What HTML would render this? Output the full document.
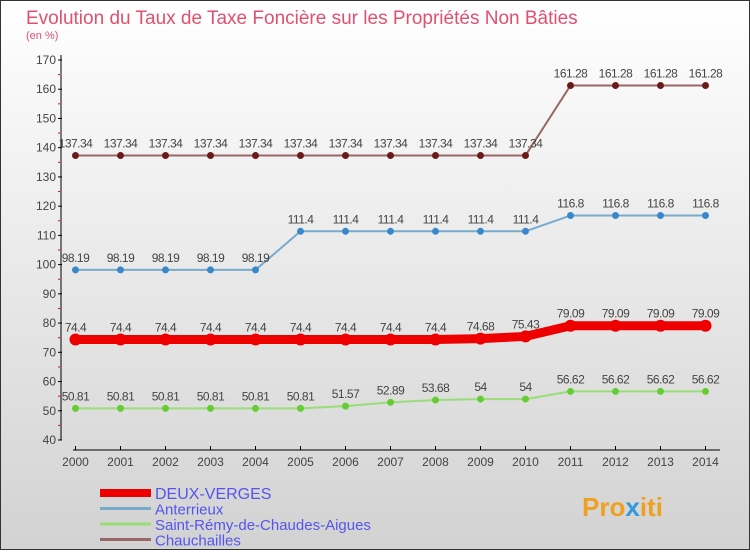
<!DOCTYPE html>
<html><head><meta charset="utf-8"><style>
body{margin:0;}
#c{width:750px;height:550px;}
text{font-family:"Liberation Sans",sans-serif;}
</style></head><body>
<svg id="c" width="750" height="550" xmlns="http://www.w3.org/2000/svg">
<defs><linearGradient id="bg" x1="0" y1="0" x2="0" y2="1"><stop offset="0" stop-color="#ffffff"/><stop offset="1" stop-color="#d2d2d2"/></linearGradient></defs>
<rect x="0.5" y="0.5" width="749" height="549" fill="url(#bg)" stroke="#333"/>
<text x="26" y="24" font-size="19" fill="#e05070">Evolution du Taux de Taxe Foncière sur les Propriétés Non Bâties</text>
<text x="26" y="39" font-size="11" fill="#e05070">(en %)</text>
<g id="axes"></g><g id="series"></g><g id="legend"></g>
<text x="582" y="516" font-size="26" font-weight="bold" fill="#f0a020">Pro<tspan fill="#3399dd">x</tspan>iti</text>
</svg>
<script>
const years=[2000,2001,2002,2003,2004,2005,2006,2007,2008,2009,2010,2011,2012,2013,2014];
const yTicks=[40,50,60,70,80,90,100,110,120,130,140,150,160,170];
const deux=[74.4,74.4,74.4,74.4,74.4,74.4,74.4,74.4,74.4,74.68,75.43,79.09,79.09,79.09,79.09];
const ant=[98.19,98.19,98.19,98.19,98.19,111.4,111.4,111.4,111.4,111.4,111.4,116.8,116.8,116.8,116.8];
const stremy=[50.81,50.81,50.81,50.81,50.81,50.81,51.57,52.89,53.68,54,54,56.62,56.62,56.62,56.62];
const chau=[137.34,137.34,137.34,137.34,137.34,137.34,137.34,137.34,137.34,137.34,137.34,161.28,161.28,161.28,161.28];
const labels=["DEUX-VERGES","Anterrieux","Saint-Rémy-de-Chaudes-Aigues","Chauchailles"];
const NS="http://www.w3.org/2000/svg";
const X=i=>75.5+i*45;
const Y=v=>440-(v-40)*380/130;
function mk(t,a,p){const e=document.createElementNS(NS,t);for(const k in a)e.setAttribute(k,a[k]);p.appendChild(e);return e;}
const ax=document.getElementById('axes');
let l=mk('line',{x1:61,y1:55,x2:61,y2:440,stroke:'#000'},ax);


l=mk('line',{x1:73,y1:450,x2:720,y2:450,stroke:'#000'},ax);


yTicks.forEach(v=>{
 mk('line',{x1:58,y1:Y(v),x2:62,y2:Y(v),stroke:'#000'},ax);
 if(v<170)mk('line',{x1:58,y1:Y(v+5),x2:60,y2:Y(v+5),stroke:'#f00'},ax);
 const t=mk('text',{x:56,y:Y(v)+4,'font-size':12,'text-anchor':'end',fill:'#444'},ax);t.textContent=v;
 
 
});
years.forEach((y,i)=>{
 mk('line',{x1:X(i),y1:446,x2:X(i),y2:450,stroke:'#000'},ax);
 const t=mk('text',{x:X(i),y:466,'font-size':12,'text-anchor':'middle',fill:'#444'},ax);t.textContent=y;
 
 
});
const sg=document.getElementById('series');
function series(data,line,dot,w,r,name){
 const g=mk('g',{},sg);
 
 
 mk('polyline',{points:data.map((v,i)=>X(i)+','+Y(v)).join(' '),fill:'none',stroke:line,'stroke-width':w},g);
 data.forEach((v,i)=>{
  const c=mk('circle',{cx:X(i),cy:Y(v),r:r,fill:dot},g);
  
  
  const t=mk('text',{x:X(i),y:Y(v)-8,'font-size':12,'text-anchor':'middle',fill:'#444','letter-spacing':'-0.5'},g);t.textContent=v;
 });
}
series(chau,'#996666','#6b1a1a',2,3.5,'series-chauchailles');
series(ant,'#77aacc','#3a88cc',2,3.5,'series-anterrieux');
series(stremy,'#99dd77','#66cc33',2,3.5,'series-saint-remy');
series(deux,'#ee0000','#ee0000',9,6,'series-deux-verges');
const lg=document.getElementById('legend');
const cols=['#ee0000','#77aacc','#99dd77','#996666'],ws=[8,3,3,3];
labels.forEach((s,i)=>{
 const y=493+i*15.5;
 const g=mk('g',{},lg);
 
 
 mk('line',{x1:100,y1:y,x2:151,y2:y,stroke:cols[i],'stroke-width':ws[i]},g);
 const t=mk('text',{x:155,y:y+6,'font-size':i==0?16:15,fill:'#5555ee'},g);t.textContent=s;
});
</script>
</body></html>
